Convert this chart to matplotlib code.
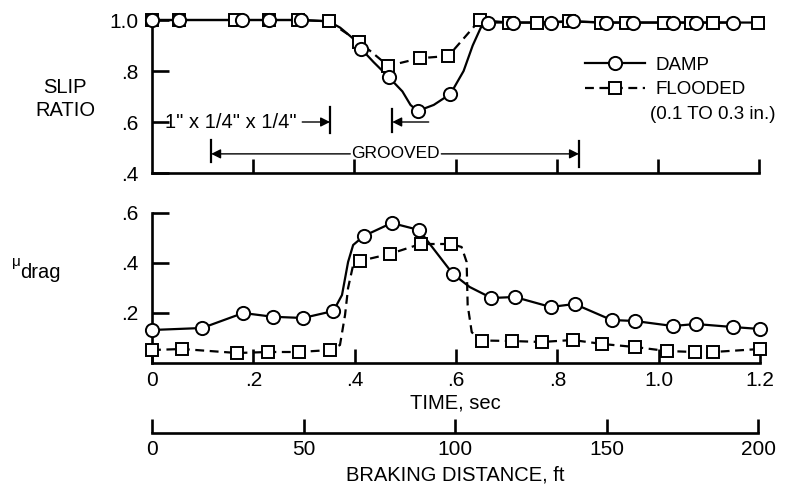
import numpy as np
import matplotlib
matplotlib.use('Agg')
import matplotlib.pyplot as plt
from matplotlib.lines import Line2D

plt.rcParams['font.family'] = ['Liberation Sans', 'DejaVu Sans']

# ---- data ---------------------------------------------------------------
# slip ratio, damp (circles)
damp_slip_t = [0, 0.053, 0.178, 0.231, 0.295, 0.414, 0.468, 0.525, 0.590,
               0.665, 0.713, 0.788, 0.832, 0.897, 0.950, 1.030, 1.075, 1.149]
damp_slip_v = [1.0, 1.0, 1.0, 1.0, 1.0, 0.886, 0.776, 0.643, 0.71,
               0.99, 0.99, 0.99, 0.995, 0.99, 0.99, 0.99, 0.99, 0.99]
# faired curve between the damp points
damp_slip_fair_t = [0.349, 0.372, 0.396, 0.438, 0.495, 0.511, 0.557, 0.616, 0.634, 0.650]
damp_slip_fair_v = [0.995, 0.97, 0.93, 0.835, 0.72, 0.667, 0.667, 0.80, 0.90, 0.97]

# slip ratio, flooded (squares)
flood_slip_t = [0, 0.053, 0.165, 0.231, 0.289, 0.349, 0.41, 0.467, 0.529, 0.586,
                0.648, 0.705, 0.762, 0.824, 0.887, 0.937, 1.012, 1.065, 1.109, 1.198]
flood_slip_v = [1.0, 1.0, 1.0, 1.0, 1.0, 0.995, 0.914, 0.82, 0.85, 0.859,
                1.0, 0.99, 0.99, 0.995, 0.99, 0.99, 0.99, 0.99, 0.99, 0.99]

# drag coefficient, damp (circles)
damp_mu_t = [0, 0.099, 0.18, 0.238, 0.298, 0.358, 0.418, 0.473, 0.527, 0.594,
             0.67, 0.716, 0.787, 0.834, 0.907, 0.953, 1.028, 1.073, 1.146, 1.2]
damp_mu_v = [0.132, 0.14, 0.20, 0.185, 0.18, 0.208, 0.508, 0.56, 0.532, 0.356,
             0.26, 0.264, 0.224, 0.236, 0.172, 0.168, 0.148, 0.156, 0.144, 0.136]
damp_mu_fair_t = [0.375, 0.387, 0.397, 0.627]
damp_mu_fair_v = [0.272, 0.404, 0.472, 0.304]

# drag coefficient, flooded (squares)
flood_mu_t = [0, 0.059, 0.168, 0.229, 0.29, 0.352, 0.41, 0.469, 0.530, 0.590,
              0.651, 0.71, 0.769, 0.83, 0.889, 0.953, 1.016, 1.071, 1.108, 1.2]
flood_mu_v = [0.052, 0.056, 0.04, 0.044, 0.044, 0.052, 0.408, 0.436, 0.476, 0.476,
              0.09, 0.088, 0.084, 0.092, 0.076, 0.064, 0.048, 0.044, 0.044, 0.056]
flood_mu_fair_t = [0.371, 0.381, 0.387, 0.397, 0.611, 0.621, 0.623, 0.631, 0.641]
flood_mu_fair_v = [0.072, 0.192, 0.30, 0.392, 0.464, 0.404, 0.232, 0.124, 0.10]

time_ticks = [0, 0.2, 0.4, 0.6, 0.8, 1.0, 1.2]
time_labels = ['0', '.2', '.4', '.6', '.8', '1.0', '1.2']
slip_ticks = [0.4, 0.6, 0.8, 1.0]
slip_labels = ['.4', '.6', '.8', '1.0']
mu_ticks = [0.2, 0.4, 0.6]
mu_labels = ['.2', '.4', '.6']
dist_ticks = [0, 50, 100, 150, 200]
dist_labels = ['0', '50', '100', '150', '200']

# groove annotations (time, sec)
small_groove_end = 0.352
dip_mark = 0.475
grooved_span = [0.117, 0.844]


def merged(t1, v1, t2, v2):
    t = np.concatenate([t1, t2])
    v = np.concatenate([v1, v2])
    o = np.argsort(t)
    return t[o], v[o]


def in_range(t, v, lo, hi):
    t = np.asarray(t)
    v = np.asarray(v)
    m = (t >= lo - 1e-9) & (t <= hi + 1e-9)
    return t[m], v[m]


W, H = 795, 496


def box(x0, x1, ytop, ybot):
    return [x0 / W, 1 - ybot / H, (x1 - x0) / W, (ybot - ytop) / H]


fig = plt.figure(figsize=(W / 100, H / 100), dpi=100)
ax1 = fig.add_axes(box(152, 759, 20, 173))
ax2 = fig.add_axes(box(152, 760, 213, 363))
ax3 = fig.add_axes(box(152, 758, 432, 433))

FS = 15
TS = 14.5
LW = 1.6
dash = (0, (4, 2.5))
circ = dict(marker='o', ms=9.5, mfc='white', mec='k', mew=1.4, ls='none', clip_on=False, zorder=4)
sq = dict(marker='s', ms=8.5, mfc='white', mec='k', mew=1.4, ls='none', clip_on=False, zorder=3)

for ax in (ax1, ax2, ax3):
    for s in ('top', 'right'):
        ax.spines[s].set_visible(False)
    for s in ('left', 'bottom'):
        ax.spines[s].set_linewidth(1.9)
    ax.set_xlim(0, 1.2)

# ---- slip ratio panel -----------------------------------------------------
t, v = merged(damp_slip_t, damp_slip_v, damp_slip_fair_t, damp_slip_fair_v)
ax1.plot(t, v, color='k', lw=LW, clip_on=False)
for lo, hi, ls in [(0, 0.349, '-'), (0.349, 0.648, dash), (0.648, 1.2, '-')]:
    tt, vv = in_range(flood_slip_t, flood_slip_v, lo, hi)
    ax1.plot(tt, vv, color='k', lw=LW, ls=ls, clip_on=False)
ax1.plot(flood_slip_t, flood_slip_v, **sq)
ax1.plot(damp_slip_t, damp_slip_v, **circ)

ax1.set_ylim(0.4, 1.0)
ax1.set_xticks(time_ticks[1:])
ax1.set_xticklabels([])
ax1.set_yticks(slip_ticks)
ax1.set_yticklabels(slip_labels)
ax1.tick_params(axis='y', direction='in', length=12, width=1.9, pad=10, labelsize=FS)
ax1.tick_params(axis='x', direction='in', length=10, width=1.9)

arrow = dict(arrowstyle='-|>', color='k', lw=1.0, mutation_scale=14, shrinkA=0, shrinkB=0)
ax1.text(0.026, 0.6, '1" x 1/4" x 1/4"', fontsize=14.5, ha='left', va='center')
ax1.annotate('', xy=(small_groove_end, 0.6), xytext=(0.297, 0.6), arrowprops=arrow)
ax1.plot([small_groove_end] * 2, [0.557, 0.66], color='k', lw=1.6)
ax1.annotate('', xy=(dip_mark, 0.6), xytext=(0.547, 0.6), arrowprops=arrow)
ax1.plot([dip_mark] * 2, [0.56, 0.65], color='k', lw=1.6)
ax1.text(0.482, 0.475, 'GROOVED', fontsize=12.5, ha='center', va='center')
ax1.annotate('', xy=(grooved_span[0], 0.475), xytext=(0.392, 0.475), arrowprops=arrow)
ax1.annotate('', xy=(grooved_span[1], 0.475), xytext=(0.572, 0.475), arrowprops=arrow)
ax1.plot([grooved_span[0]] * 2, [0.443, 0.53], color='k', lw=1.6)
ax1.plot([grooved_span[1]] * 2, [0.424, 0.525], color='k', lw=1.6)

handles = [Line2D([], [], color='k', lw=LW, marker='o', ms=9.5, mfc='white', mew=1.4),
           Line2D([], [], color='k', lw=LW, ls=dash, marker='s', ms=8.5, mfc='white', mew=1.4)]
ax1.legend(handles, ['DAMP', 'FLOODED'], loc='upper left', bbox_to_anchor=(0.713, 0.76),
           frameon=False, fontsize=13.5, handlelength=3.2, handletextpad=0.55,
           labelspacing=0.4, borderpad=0, borderaxespad=0)
ax1.text(0.820, 0.385, '(0.1 TO 0.3 in.)', fontsize=13.5, ha='left', va='center',
         transform=ax1.transAxes)

# ---- drag coefficient panel ----------------------------------------------
t, v = merged(damp_mu_t, damp_mu_v, damp_mu_fair_t, damp_mu_fair_v)
ax2.plot(t, v, color='k', lw=LW, clip_on=False)
t, v = merged(flood_mu_t, flood_mu_v, flood_mu_fair_t, flood_mu_fair_v)
ax2.plot(t, v, color='k', lw=LW, ls=dash, clip_on=False)
ax2.plot(flood_mu_t, flood_mu_v, **sq)
ax2.plot(damp_mu_t, damp_mu_v, **circ)

ax2.set_ylim(0, 0.6)
ax2.set_yticks(mu_ticks)
ax2.set_yticklabels(mu_labels)
ax2.set_xticks(time_ticks)
ax2.set_xticklabels(time_labels)
ax2.tick_params(axis='y', direction='in', length=12, width=1.9, pad=10, labelsize=FS)
ax2.tick_params(axis='x', direction='in', length=10, width=1.9, pad=6, labelsize=FS)

# ---- braking distance scale ----------------------------------------------
ax3.set_xlim(0, 200)
ax3.spines['left'].set_visible(False)
ax3.set_yticks([])
ax3.set_xticks(dist_ticks)
ax3.set_xticklabels(dist_labels)
ax3.tick_params(axis='x', direction='in', length=10, width=1.9, pad=5, labelsize=FS)

# ---- axis titles ---------------------------------------------------------
fig.text(65 / W, 1 - 99 / H, 'SLIP\nRATIO', fontsize=TS, ha='center', va='center', linespacing=1.3)
fig.text(12 / W, 1 - 262 / H, 'μ', fontsize=11, ha='left', va='center')
fig.text(20 / W, 1 - 273 / H, 'drag', fontsize=TS, ha='left', va='center')
fig.text(455 / W, 1 - 403 / H, 'TIME, sec', fontsize=TS, ha='center', va='center')
fig.text(455 / W, 1 - 475 / H, 'BRAKING DISTANCE, ft', fontsize=TS, ha='center', va='center')

fig.savefig('out.png', dpi=100)
